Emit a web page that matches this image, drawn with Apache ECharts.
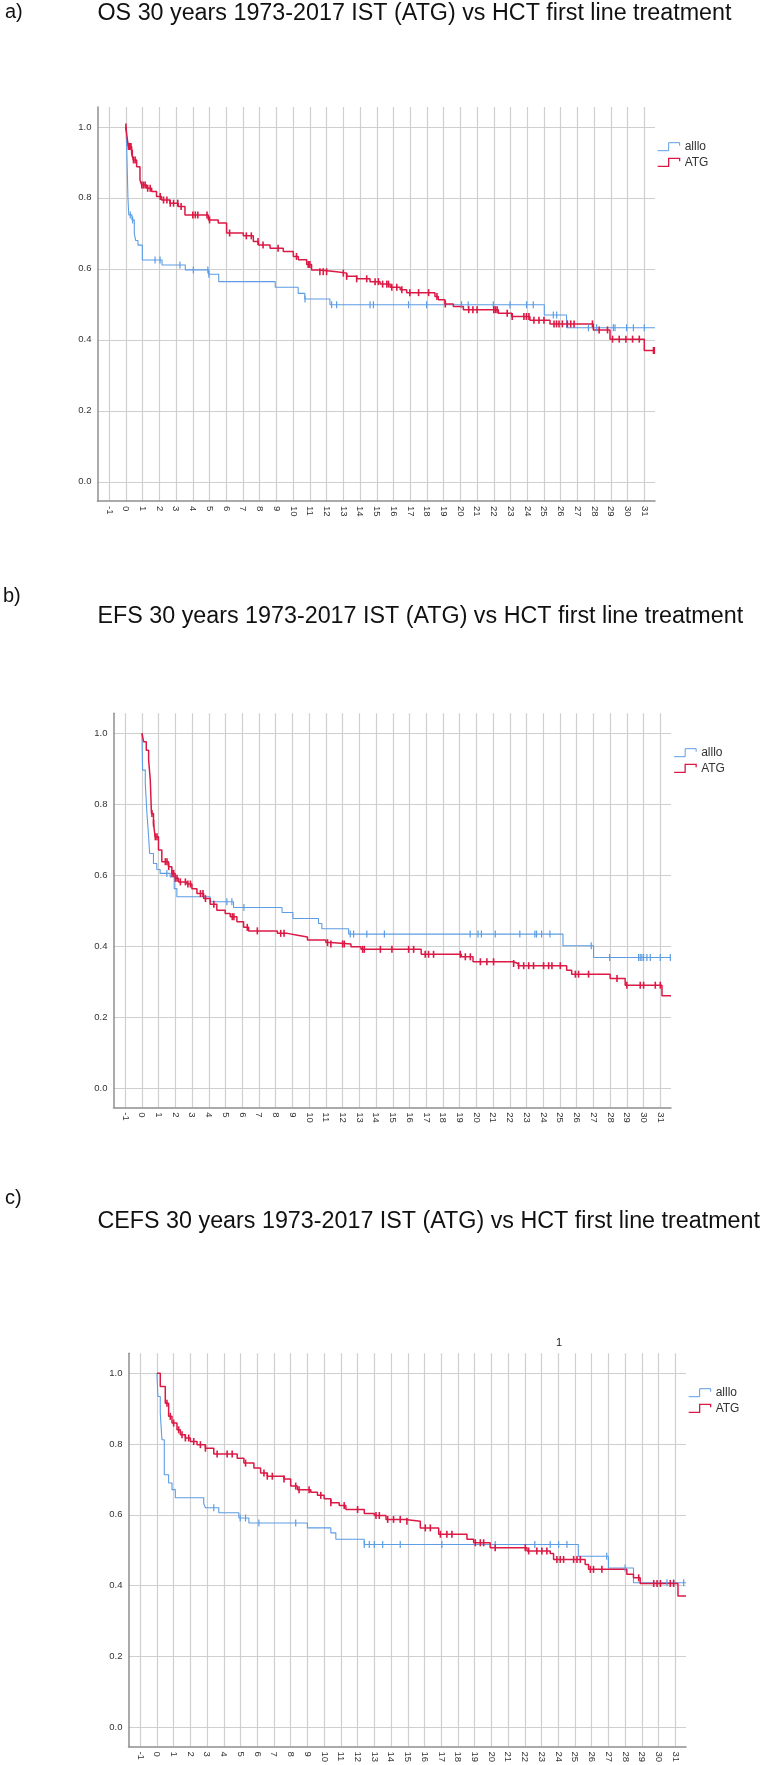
<!DOCTYPE html>
<html><head><meta charset="utf-8">
<script src="https://cdn.jsdelivr.net/npm/echarts@6/dist/echarts.min.js"></script>
<style>html,body{margin:0;padding:0;background:#fff}#c{width:764px;height:1765px}</style>
</head><body><div id="c"></div>
<script>
// ---------- tick labels & names ----------
const xTicks = [-1,0,1,2,3,4,5,6,7,8,9,10,11,12,13,14,15,16,17,18,19,20,21,22,23,24,25,26,27,28,29,30,31];
const yTicks = [0,0.2,0.4,0.6,0.8,1.0];
const groups = ['alllo','ATG'];
const panelLabels = ['a)','b)','c)'];
const titles = [
  'OS 30 years 1973-2017 IST (ATG) vs HCT first line treatment',
  'EFS 30 years 1973-2017 IST (ATG) vs HCT first line treatment',
  'CEFS 30 years 1973-2017 IST (ATG) vs HCT first line treatment'
];

// ---------- a) OS ----------
const osAlloT = [0,0.04,0.08,0.12,0.17,0.36,0.5,0.58,0.72,0.98,2.16,3.55,4.95,5.55,8.93,10.3,10.7,12.2,25.02,26.35,31.64];
const osAlloS = [1,0.95,0.88,0.80,0.752,0.738,0.70,0.68,0.667,0.625,0.611,0.597,0.585,0.564,0.548,0.531,0.515,0.499,0.470,0.434,0.434];
const osAlloCens = [0.26,0.4,1.74,2.04,3.23,4.03,4.9,4.96,10.71,12.3,12.6,14.6,14.8,16.9,17.98,20.07,20.47,21.97,22.97,23.96,24.36,25.56,25.76,27.66,28.15,29.15,29.25,29.94,30.35,31.0];
const osAtgT = [0,0.04,0.14,0.34,0.44,0.64,0.84,0.94,1.24,1.54,1.83,2.13,2.63,3.13,3.53,4.93,5.52,6.02,7.02,7.62,7.92,8.62,9.41,10.01,10.31,10.81,11.1,11.6,12.6,13.2,13.8,14.6,15.2,15.8,16.4,16.79,18.48,18.68,19.08,19.58,20.18,22.27,23.07,24.16,25.36,27.95,28.95,31.0,31.64];
const osAtgS = [1.0,0.982,0.945,0.926,0.907,0.888,0.85,0.836,0.827,0.818,0.804,0.794,0.785,0.776,0.752,0.738,0.729,0.701,0.693,0.677,0.667,0.658,0.649,0.635,0.626,0.612,0.597,0.592,0.588,0.579,0.572,0.564,0.557,0.548,0.541,0.533,0.522,0.513,0.501,0.494,0.485,0.475,0.466,0.455,0.445,0.428,0.402,0.370,0.370];
const osAtgCens = [0,0.15,0.2,0.25,0.3,0.38,0.45,0.55,0.95,1.05,1.15,1.3,1.45,2.05,2.25,2.45,2.65,2.85,3.1,3.3,4.0,4.15,4.3,4.85,5.0,6.2,7.2,7.5,7.9,8.2,9.1,10.2,10.9,11.0,11.6,11.8,12.0,13.0,13.2,13.8,14.4,14.9,15.1,15.35,15.6,15.7,15.9,16.2,16.5,16.98,17.5,18.1,18.6,19.1,20.5,20.75,21.0,22.0,22.1,22.2,22.8,23.1,23.8,23.95,24.1,24.4,24.7,25.0,25.6,25.75,25.9,26.1,26.4,26.6,26.8,27.9,28.3,28.8,29.1,29.5,29.9,30.3,30.7,31.55,31.6];

// ---------- b) EFS ----------
const efsAlloT = [0,0.04,0.2,0.3,0.4,0.46,0.69,0.89,1.09,1.69,1.93,2.09,4.08,5.48,8.38,9.03,10.56,10.76,12.36,25.18,27.01,31.64];
const efsAlloS = [1,0.896,0.858,0.774,0.708,0.661,0.633,0.616,0.605,0.595,0.562,0.539,0.525,0.509,0.495,0.478,0.464,0.449,0.434,0.401,0.368,0.368];
const efsAlloCens = [1.49,5.08,5.38,6.1,12.46,12.66,13.45,14.5,19.63,20.1,20.3,21.13,22.6,23.5,23.6,23.9,24.4,26.87,27.97,29.7,29.8,29.9,30.0,30.2,30.4,31.0,31.6];
const efsAtgT = [0,0.1,0.26,0.40,0.50,0.55,0.57,0.69,0.79,0.99,1.19,1.59,1.79,1.99,2.19,2.69,2.99,3.29,3.69,4.08,4.48,4.98,5.28,5.68,6.08,6.38,8.1,8.7,9.3,9.9,11.0,11.3,12.5,13.1,16.7,19.1,19.8,22.2,22.5,25.4,25.7,28.0,28.9,31.1,31.64];
const efsAtgS = [1.0,0.976,0.952,0.924,0.868,0.80,0.774,0.746,0.708,0.671,0.638,0.624,0.605,0.591,0.581,0.575,0.562,0.548,0.534,0.518,0.501,0.492,0.483,0.469,0.453,0.443,0.436,0.431,0.426,0.417,0.41,0.406,0.398,0.391,0.377,0.37,0.356,0.351,0.345,0.332,0.321,0.309,0.290,0.260,0.260];
const efsAtgCens = [0.6,0.7,0.8,0.9,1.4,1.5,1.6,1.8,1.9,2.0,2.1,2.3,2.6,2.75,2.9,3.5,3.65,3.8,4.3,5.4,5.5,6.3,6.9,8.3,8.5,11.1,11.3,12.0,12.1,13.2,13.3,14.26,14.95,15.95,16.25,16.94,17.14,17.44,19.04,19.34,19.64,20.24,20.63,21.03,22.23,22.53,22.83,23.13,23.42,24.02,24.32,24.52,25.02,25.92,26.11,26.71,28.41,29.0,29.8,30.0,30.7,31.0];

// ---------- c) CEFS ----------
const cefsAlloT = [0,0.06,0.2,0.3,0.44,0.7,0.9,1.1,2.8,2.9,3.7,4.9,5.5,9.0,10.4,10.7,12.4,25.2,27.0,28.5,31.64];
const cefsAlloS = [1,0.934,0.887,0.812,0.713,0.690,0.671,0.648,0.632,0.620,0.606,0.591,0.577,0.563,0.549,0.531,0.516,0.483,0.450,0.408,0.408];
const cefsAlloCens = [3.4,4.98,5.3,6.1,8.3,12.4,12.7,13.0,13.5,14.55,17.04,20.23,22.6,23.52,24.02,24.52,26.9,28.0,30.5,30.9,31.5];
const cefsAtgT = [0,0.2,0.5,0.7,0.9,1.2,1.4,1.7,2.0,2.4,2.9,3.4,4.8,5.2,5.8,6.2,6.6,7.6,8.0,8.4,9.2,9.6,10.0,10.4,10.9,11.3,12.4,13.0,13.7,14.85,15.75,16.85,18.54,18.94,19.93,22.13,23.52,23.72,25.61,25.81,28.1,28.5,28.9,31.16,31.64];
const cefsAtgS = [1.0,0.962,0.915,0.878,0.859,0.840,0.826,0.817,0.807,0.798,0.788,0.772,0.760,0.746,0.732,0.718,0.709,0.701,0.681,0.671,0.664,0.655,0.645,0.634,0.626,0.615,0.604,0.598,0.587,0.582,0.563,0.545,0.531,0.521,0.507,0.498,0.491,0.474,0.460,0.446,0.432,0.422,0.406,0.371,0.371];
const cefsAtgCens = [0.6,0.8,1.0,1.3,1.5,1.7,1.9,2.2,2.6,2.9,3.6,4.2,4.5,5.3,6.4,6.6,6.9,7.6,8.3,8.5,9.1,9.8,10.4,11.2,12.0,13.1,13.3,13.8,14.15,14.55,14.95,16.05,16.35,16.95,17.34,17.64,19.04,19.34,19.54,20.23,22.03,22.23,22.72,23.02,23.32,23.92,24.12,24.32,24.92,25.12,25.32,25.92,26.11,26.61,28.81,29.71,29.91,30.11,30.7,30.9];

// ---------- build ----------
const BLUE = '#5c9de4';
const RED = '#dc1844';
const FONT = 'Liberation Sans, Arial, sans-serif';
const X_MIN = -1.7, X_MAX = 31.64, Y_MIN = -0.054, Y_MAX = 1.056;
const LEG_ICON = 'path://M0,8 L11,8 L11,0 L22,0 L22,3';

const panels = [
  {aT:osAlloT, aS:osAlloS, aC:osAlloCens, gT:osAtgT, gS:osAtgS, gC:osAtgCens},
  {aT:efsAlloT, aS:efsAlloS, aC:efsAlloCens, gT:efsAtgT, gS:efsAtgS, gC:efsAtgCens},
  {aT:cefsAlloT, aS:cefsAlloS, aC:cefsAlloCens, gT:cefsAtgT, gS:cefsAtgS, gC:cefsAtgCens}
];
const layout = [
  {grid:{left:97.5, top:107, width:557.5, height:394}, lab:[5,12], tit:[97.5,13.5], leg:[657,139.7]},
  {grid:{left:113.5, top:713.3, width:557.5, height:394}, lab:[3,596], tit:[97.5,617], leg:[673.5,745.7]},
  {grid:{left:128.5, top:1353.3, width:557.5, height:394.4}, lab:[5,1198.5], tit:[97.5,1222], leg:[688,1385.7]}
];

function survAt(T, S, t){ let s = S[0]; for (let i=0;i<T.length;i++){ if (T[i] <= t) s = S[i]; } return s; }
function pairs(T,S){ return T.map((t,i)=>[t,S[i]]); }

const option = {animation:false, backgroundColor:'#fff', grid:[], xAxis:[], yAxis:[], series:[], legend:[], graphic:[]};

panels.forEach((p, i) => {
  const L = layout[i];
  option.grid.push(Object.assign({containLabel:false}, L.grid));
  option.xAxis.push({
    type:'value', gridIndex:i, min:X_MIN, max:X_MAX,
    axisLine:{show:true, onZero:false, lineStyle:{color:'#8f8f8f', width:1.5}},
    axisTick:{show:false, customValues:xTicks},
    axisLabel:{customValues:xTicks, rotate:-90, margin:5, fontSize:9.5, color:'#333', fontFamily:FONT},
    splitLine:{show:true, lineStyle:{color:'#cfcfcf', width:1.2}}
  });
  option.yAxis.push({
    type:'value', gridIndex:i, min:Y_MIN, max:Y_MAX,
    axisLine:{show:true, onZero:false, lineStyle:{color:'#8f8f8f', width:1.5}},
    axisTick:{show:false, customValues:yTicks},
    axisLabel:{customValues:yTicks, margin:6, fontSize:9.5, color:'#333', fontFamily:FONT, formatter:v=>v.toFixed(1)},
    splitLine:{show:true, lineStyle:{color:'#cfcfcf', width:1.2}}
  });
  option.series.push(
    {type:'line', name:groups[0], xAxisIndex:i, yAxisIndex:i, step:'end', showSymbol:false, data:pairs(p.aT,p.aS), lineStyle:{color:BLUE, width:1.1}, itemStyle:{color:BLUE}, z:3},
    {type:'line', name:groups[1], xAxisIndex:i, yAxisIndex:i, step:'end', showSymbol:false, data:pairs(p.gT,p.gS), lineStyle:{color:RED, width:1.5}, itemStyle:{color:RED}, z:4},
    {type:'scatter', name:groups[0], xAxisIndex:i, yAxisIndex:i, symbol:'rect', symbolSize:[1.2,7], data:p.aC.map(t=>[t, survAt(p.aT,p.aS,t)]), itemStyle:{color:BLUE, opacity:1}, z:5},
    {type:'scatter', name:groups[1], xAxisIndex:i, yAxisIndex:i, symbol:'rect', symbolSize:[1.6,7], data:p.gC.map(t=>[t, survAt(p.gT,p.gS,t)]), itemStyle:{color:RED, opacity:1}, z:6}
  );
  option.legend.push({
    orient:'vertical', left:L.leg[0], top:L.leg[1], padding:0, itemWidth:22, itemHeight:8, itemGap:1.6,
    icon:LEG_ICON, selectedMode:false,
    textStyle:{fontSize:12, color:'#333', lineHeight:14, fontFamily:FONT},
    data:[
      {name:groups[0], itemStyle:{color:'rgba(0,0,0,0)', borderColor:BLUE, borderWidth:1}},
      {name:groups[1], itemStyle:{color:'rgba(0,0,0,0)', borderColor:RED, borderWidth:1.3}}
    ]
  });
  option.graphic.push(
    {type:'text', left:L.lab[0], top:L.lab[1]-10, style:{text:panelLabels[i], fontSize:20, fontFamily:FONT, fill:'#111'}},
    {type:'text', left:L.tit[0], top:L.tit[1]-11.5, style:{text:titles[i], fontSize:23.3, fontFamily:FONT, fill:'#111'}}
  );
});
option.graphic.push({type:'text', left:556, top:1337, style:{text:'1', fontSize:11, fontFamily:FONT, fill:'#222'}});

const chart = echarts.init(document.getElementById('c'), null, {renderer:'canvas', width:764, height:1765});
chart.setOption(option);
</script></body></html>
